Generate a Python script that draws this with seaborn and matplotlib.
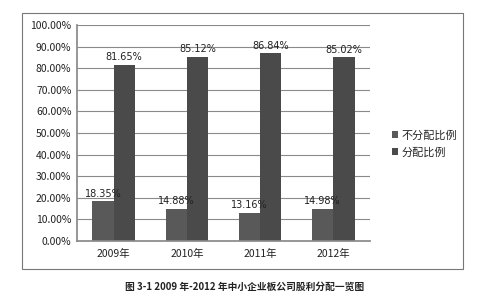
import matplotlib
matplotlib.use("Agg")
import matplotlib.pyplot as plt
import seaborn as sns
import pandas as pd
from matplotlib.patches import Rectangle

years = ["2009年", "2010年", "2011年", "2012年"]
no_dist = [18.35, 14.88, 13.16, 14.98]
dist = [81.65, 85.12, 86.84, 85.02]
series = ["不分配比例", "分配比例"]
yticks = [0, 10, 20, 30, 40, 50, 60, 70, 80, 90, 100]
caption = "图 3-1 2009 年-2012 年中小企业板公司股利分配一览图"

sns.set_theme(style="white")
plt.rcParams['font.family'] = ['Noto Sans CJK SC', 'DejaVu Sans']

df = pd.DataFrame({
    "year": years * 2,
    "value": no_dist + dist,
    "series": [series[0]] * 4 + [series[1]] * 4,
})

fig = plt.figure(figsize=(4.85, 3.0), dpi=100)
ax = fig.add_axes([77/485, 1-241/300, (370-77)/485, (241-25)/300])

sns.barplot(data=df, x="year", y="value", hue="series", ax=ax,
            palette=["#595959", "#4a4a4a"], width=0.58, saturation=1,
            edgecolor="none", legend=True)

ax.set_ylim(0, 100)
ax.set_yticks(yticks)
ax.set_yticklabels([f"{v:.2f}%" for v in yticks], fontsize=7.5, color="#222222")
ax.tick_params(axis="x", labelsize=7.5, colors="#222222", length=0, pad=6)
ax.tick_params(axis="y", length=0, pad=4)
ax.set_xlabel("")
ax.set_ylabel("")
ax.grid(axis="y", color="#8a8a8a", linewidth=0.8)
ax.set_axisbelow(True)
for s in ["top", "right"]:
    ax.spines[s].set_visible(False)
ax.spines["left"].set_color("#8a8a8a")
ax.spines["bottom"].set_color("#8a8a8a")

for cont in ax.containers:
    ax.bar_label(cont, labels=[f"{b.get_height():.2f}%" for b in cont],
                 fontsize=7, color="#222222", padding=2, family=['DejaVu Sans'])

leg = ax.legend(loc="center left", bbox_to_anchor=(1.04, 0.45), frameon=False,
                fontsize=8, handlelength=0.6, handleheight=0.6, handletextpad=0.3,
                labelspacing=0.6)

fig.patches.append(Rectangle((22/485, 1-269/300), (463-22)/485, (269-13)/300,
                             transform=fig.transFigure, fill=False,
                             edgecolor="#777777", linewidth=0.8))

fig.text(245/485, 1-287/300, caption, ha="center", va="center",
         fontsize=7, fontweight="bold", color="#222222")

fig.savefig("out.png", dpi=100)
